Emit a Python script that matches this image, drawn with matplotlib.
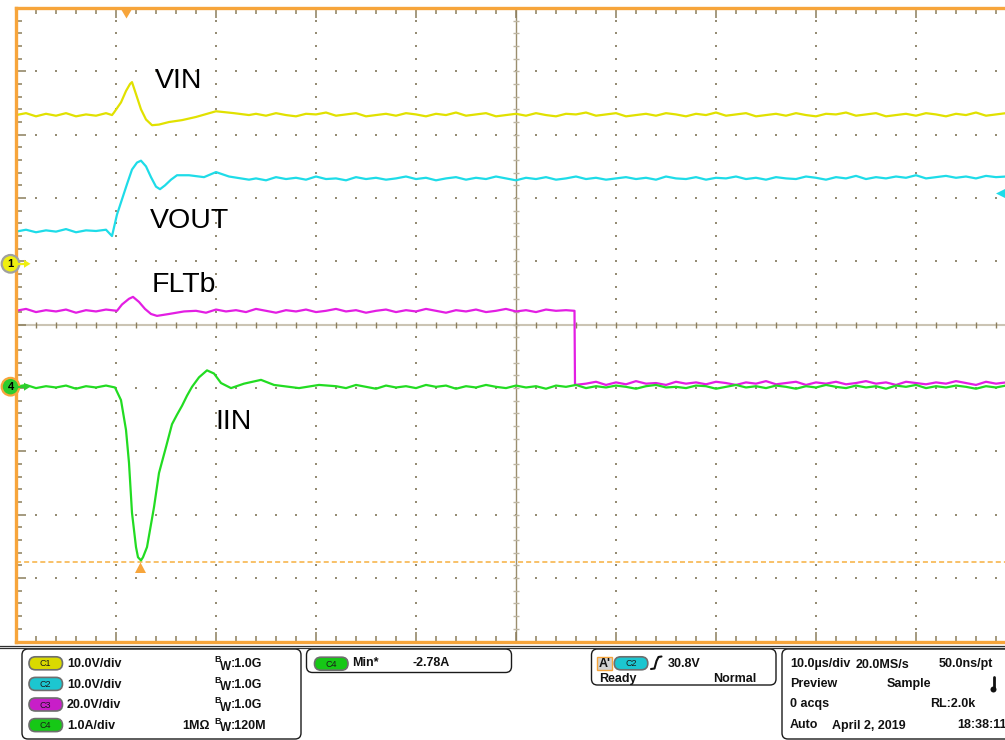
import matplotlib.pyplot as plt
from matplotlib.patches import FancyBboxPatch, Circle, Polygon
import numpy as np

OUTPUT = "out.png"
W, H = 1005, 740

plt.rcParams["font.family"] = ["Liberation Sans", "DejaVu Sans"]

# ---------------------------------------------------------------------------
# Scope data: time in us (10 us/div, trigger at t = 0), amplitude in
# screen divisions (10 x 10 graticule, centre = 0)
# ---------------------------------------------------------------------------
T_LEFT, T_RIGHT = -11.0, 89.0

# C1 - VIN
VIN_T_PRE = list(range(-11, -1))
VIN_PRE = [3.31, 3.34, 3.29, 3.33, 3.30, 3.34, 3.29, 3.32, 3.30, 3.34]
VIN_T_EVT = [-1.4, -1.2, -0.5, 0.0, 0.4, 0.6, 1.0, 1.5, 2.0, 2.6, 3.3, 4.3,
             5.6, 7.0, 9.0, 10.8, 12.3]
VIN_EVT = [3.31, 3.35, 3.51, 3.69, 3.80, 3.83, 3.64, 3.40, 3.24, 3.15, 3.16,
           3.20, 3.23, 3.28, 3.37, 3.34, 3.31]
VIN_T_POST = list(range(13, 89))
VIN_POST = [
    3.33, 3.30, 3.34, 3.31, 3.29, 3.33, 3.32, 3.35, 3.30, 3.32,
    3.34, 3.29, 3.31, 3.33, 3.30, 3.34, 3.32, 3.29, 3.33, 3.31,
    3.35, 3.30, 3.32, 3.34, 3.29, 3.31, 3.33, 3.30, 3.34, 3.31,
    3.29, 3.33, 3.32, 3.35, 3.30, 3.32, 3.34, 3.29, 3.31, 3.33,
    3.30, 3.34, 3.32, 3.29, 3.33, 3.31, 3.35, 3.30, 3.32, 3.34,
    3.29, 3.31, 3.33, 3.30, 3.34, 3.31, 3.29, 3.33, 3.32, 3.35,
    3.30, 3.32, 3.34, 3.29, 3.31, 3.33, 3.30, 3.34, 3.32, 3.29,
    3.33, 3.31, 3.35, 3.30, 3.32, 3.34,
]

# C2 - VOUT
VOUT_T_PRE = list(range(-11, -1))
VOUT_PRE = [1.47, 1.50, 1.46, 1.49, 1.47, 1.51, 1.46, 1.49, 1.48, 1.50]
VOUT_T_EVT = [-1.4, -0.9, -0.4, 0.1, 0.6, 1.1, 1.5, 2.0, 2.5, 3.0, 3.4, 3.9,
              4.5, 5.1, 6.3, 7.8, 9.0, 10.3, 12.3]
VOUT_EVT = [1.40, 1.74, 1.98, 2.22, 2.45, 2.56, 2.59, 2.50, 2.33, 2.18, 2.14,
            2.20, 2.29, 2.36, 2.36, 2.33, 2.41, 2.34, 2.29]
VOUT_T_POST = list(range(13, 89))
VOUT_POST = [
    2.31, 2.28, 2.33, 2.30, 2.32, 2.29, 2.34, 2.30, 2.31, 2.28,
    2.33, 2.30, 2.32, 2.29, 2.31, 2.34, 2.30, 2.32, 2.28, 2.31,
    2.33, 2.29, 2.32, 2.30, 2.34, 2.31, 2.28, 2.32, 2.30, 2.33,
    2.29, 2.31, 2.34, 2.30, 2.32, 2.29, 2.31, 2.33, 2.30, 2.32,
    2.29, 2.34, 2.31, 2.30, 2.33, 2.29, 2.32, 2.31, 2.34, 2.30,
    2.32, 2.29, 2.33, 2.31, 2.30, 2.34, 2.32, 2.29, 2.33, 2.31,
    2.35, 2.30, 2.33, 2.31, 2.34, 2.32, 2.36, 2.31, 2.33, 2.35,
    2.32, 2.34, 2.31, 2.35, 2.33, 2.34,
]

# C3 - FLTb
FLT_T_PRE = list(range(-11, -1))
FLT_PRE = [0.22, 0.25, 0.20, 0.23, 0.21, 0.24, 0.19, 0.23, 0.21, 0.24]
FLT_T_EVT = [-0.9, -0.4, 0.3, 0.7, 1.3, 1.9, 2.5, 3.1, 4.3, 5.8]
FLT_EVT = [0.22, 0.32, 0.41, 0.44, 0.36, 0.25, 0.17, 0.14, 0.17, 0.21]
FLT_T_MID = list(range(7, 45))
FLT_MID = [
    0.22, 0.19, 0.24, 0.21, 0.23, 0.20, 0.25, 0.22, 0.19, 0.23,
    0.21, 0.24, 0.20, 0.22, 0.25, 0.21, 0.23, 0.19, 0.22, 0.24,
    0.20, 0.23, 0.21, 0.25, 0.22, 0.19, 0.23, 0.21, 0.24, 0.20,
    0.22, 0.25, 0.21, 0.23, 0.20, 0.24, 0.22, 0.23,
]
FLT_T_STEP = [44.85, 44.9]
FLT_STEP = [0.22, -0.95]
FLT_T_LOW = list(range(46, 89))
FLT_LOW = [
    -0.93, -0.90, -0.95, -0.91, -0.94, -0.89, -0.93, -0.92, -0.95, -0.90,
    -0.93, -0.91, -0.94, -0.90, -0.92, -0.95, -0.91, -0.93, -0.89, -0.94,
    -0.92, -0.90, -0.95, -0.91, -0.93, -0.90, -0.94, -0.92, -0.89, -0.93,
    -0.91, -0.95, -0.90, -0.92, -0.94, -0.91, -0.93, -0.89, -0.92, -0.95,
    -0.90, -0.93, -0.91,
]

# C4 - IIN
IIN_T_PRE = list(range(-11, -1))
IIN_PRE = [-0.98, -0.95, -1.00, -0.97, -0.99, -0.96, -1.01, -0.97, -0.99, -0.96]
IIN_T_EVT = [-1.1, -0.5, 0.0, 0.3, 0.6, 1.0, 1.2, 1.5, 1.7, 2.1, 2.8, 3.3,
             4.0, 4.6, 5.1, 5.6, 6.1, 6.6, 7.3, 8.1, 8.8, 9.5, 10.5, 11.8,
             13.5, 14.8, 17.3, 19.3]
IIN_EVT = [-0.99, -1.19, -1.66, -2.18, -2.97, -3.51, -3.67, -3.72, -3.67,
           -3.51, -2.88, -2.34, -1.93, -1.57, -1.42, -1.28, -1.12, -0.98,
           -0.83, -0.72, -0.77, -0.92, -1.00, -0.93, -0.87, -0.95, -1.00,
           -0.95]
IIN_T_POST = list(range(21, 89))
IIN_POST = [
    -0.97, -1.00, -0.95, -0.98, -1.01, -0.96, -0.99, -0.97, -1.00, -0.95,
    -0.98, -0.96, -1.01, -0.97, -0.99, -0.95, -0.98, -1.00, -0.96, -0.99,
    -0.97, -1.01, -0.96, -0.98, -0.95, -1.00, -0.97, -0.99, -0.96, -0.98,
    -1.01, -0.97, -0.95, -0.99, -0.98, -1.00, -0.96, -0.97, -1.01, -0.98,
    -0.95, -0.99, -0.97, -1.00, -0.96, -0.98, -1.01, -0.97, -0.99, -0.95,
    -0.98, -1.00, -0.96, -0.99, -0.97, -1.01, -0.96, -0.98, -0.95, -1.00,
    -0.97, -0.99, -0.96, -0.98, -1.01, -0.97, -0.99, -0.96,
]

CURSOR_LEVEL = -3.75   # horizontal cursor at the IIN minimum

COL = {"C1": "#E1E100", "C2": "#1EDCE8", "C3": "#E31EE3", "C4": "#22DC22"}
ORANGE = "#F7A53B"
GRID = "#958C74"
TICK = "#8C7E5C"

# ---------------------------------------------------------------------------
# Figure / graticule
# ---------------------------------------------------------------------------
fig = plt.figure(figsize=(W / 100, H / 100), dpi=100)
fig.patch.set_facecolor("white")

ax = fig.add_axes([16 / W, (H - 641.5) / H, 1000 / W, 633.5 / H])
ax.set_xlim(T_LEFT, T_RIGHT)
ax.set_ylim(-5, 5)

ax.set_xticks(np.arange(T_LEFT, T_RIGHT + 1, 10))
ax.set_xticks(np.arange(T_LEFT, T_RIGHT + 1, 2), minor=True)
ax.set_yticks(np.arange(-5, 6, 1))
ax.set_yticks(np.arange(-5, 5.01, 0.2), minor=True)
ax.tick_params(which="both", direction="in", top=True, bottom=True,
               left=True, right=False, labelbottom=False, labelleft=False,
               color=TICK, width=1.1)
ax.tick_params(which="major", length=7.5)
ax.tick_params(which="minor", length=4.3)
for s in ax.spines.values():
    s.set_color(ORANGE)
    s.set_linewidth(2.4)
    s.set_zorder(6)

t_center = T_LEFT + 50
minor_y = np.arange(-5, 5.01, 0.2)
minor_t = np.arange(T_LEFT, T_RIGHT + 0.1, 2)

# dotted major lines
for k in range(1, 10):
    tx = T_LEFT + 10 * k
    if tx == t_center:
        continue
    ax.plot([tx] * len(minor_y), minor_y, ls="none", marker="s", ms=1.5,
            mew=0, color=GRID, zorder=1)
for yv in range(-4, 5):
    if yv == 0:
        continue
    ax.plot(minor_t, [yv] * len(minor_t), ls="none", marker="s", ms=1.5,
            mew=0, color=GRID, zorder=1)

# centre cross with ticks
ax.axhline(0, color="#CBC4B4", lw=1.5, zorder=1)
ax.plot(minor_t, [0] * len(minor_t), ls="none", marker="|", ms=4.5,
        mew=1.0, color=TICK, zorder=1.2)
ax.axvline(t_center, color="#9A8E6E", lw=1.0, zorder=1)
ax.plot([t_center] * len(minor_y), minor_y, ls="none", marker="_", ms=4.5,
        mew=1.0, color="#BDB5A2", zorder=1.2)

# cursor
ax.axhline(CURSOR_LEVEL, color="#F7B040", lw=1.1, dashes=(3.3, 2.0), zorder=2)

# ---------------------------------------------------------------------------
# Traces
# ---------------------------------------------------------------------------
lw = 1.6
ax.plot(VIN_T_PRE + VIN_T_EVT + VIN_T_POST, VIN_PRE + VIN_EVT + VIN_POST,
        color=COL["C1"], lw=lw, zorder=3)
ax.plot(VOUT_T_PRE + VOUT_T_EVT + VOUT_T_POST,
        VOUT_PRE + VOUT_EVT + VOUT_POST, color=COL["C2"], lw=lw, zorder=3)
ax.plot(FLT_T_PRE + FLT_T_EVT + FLT_T_MID + FLT_T_STEP + FLT_T_LOW,
        FLT_PRE + FLT_EVT + FLT_MID + FLT_STEP + FLT_LOW,
        color=COL["C3"], lw=lw, zorder=3)
ax.plot(IIN_T_PRE + IIN_T_EVT + IIN_T_POST, IIN_PRE + IIN_EVT + IIN_POST,
        color=COL["C4"], lw=lw, zorder=3.1)

# trace labels
lab_kw = dict(fontsize=20.5, color="black", ha="left", va="baseline", zorder=5)
ax.text(2.9, 3.74, "VIN", **lab_kw)
ax.text(2.4, 1.52, "VOUT", **lab_kw)
ax.text(2.55, 0.52, "FLTb", **lab_kw)
ax.text(8.9, -1.64, "IIN", **lab_kw)

# ---------------------------------------------------------------------------
# Overlay in pixel coordinates: markers and the readout panel
# ---------------------------------------------------------------------------
ov = fig.add_axes([0, 0, 1, 1], zorder=10)
ov.set_xlim(0, W)
ov.set_ylim(H, 0)
ov.set_axis_off()
ov.patch.set_alpha(0)

# trigger position (top), cursor marker, trigger level marker (right)
ov.add_patch(Polygon([(121.5, 10), (131.5, 10), (126.5, 18.5)], closed=True,
                     fc=ORANGE, ec="none"))
ov.add_patch(Polygon([(135, 573), (146, 573), (140.5, 562.5)], closed=True,
                     fc=ORANGE, ec="none"))
ov.add_patch(Polygon([(996, 193.5), (1005, 189), (1005, 198)], closed=True,
                     fc=COL["C2"], ec="none"))


def ch_marker(yc, label, fc, ec):
    ov.add_patch(Polygon([(24, yc - 4), (30.5, yc), (24, yc + 4)],
                         closed=True, fc=fc, ec="none"))
    ov.plot([18, 25], [yc, yc], color=fc, lw=1.6)
    ov.add_patch(Circle((10.5, yc), 8.8, fc=fc, ec=ec, lw=1.6))
    ov.text(10.5, yc + 0.5, label, ha="center", va="center", fontsize=8,
            fontweight="bold", color="black")


ch_marker(263.8, "1", "#EFEF10", "#A0A0A0")
ch_marker(386.7, "4", "#2ECC2E", ORANGE)

# separator lines under the graticule
ov.plot([0, W], [645.5, 645.5], color="#303030", lw=0.9)
ov.plot([0, W], [648.0, 648.0], color="#303030", lw=0.9)


def box(x0, y0, x1, y1):
    ov.add_patch(FancyBboxPatch((x0, y0), x1 - x0, y1 - y0,
                                boxstyle="round,pad=0,rounding_size=6",
                                fc="white", ec="#1A1A1A", lw=1.0))


def badge(x, yc, label, fc):
    h, w = 13.0, 33.5
    ov.add_patch(FancyBboxPatch((x, yc - h / 2), w, h,
                                boxstyle=f"round,pad=0,rounding_size={h / 2}",
                                fc=fc, ec="#6E6E6E", lw=1.2))
    ov.text(x + w / 2, yc + 0.5, label, ha="center", va="center",
            fontsize=6.5, color="#1A1A1A")


txt_kw = dict(fontsize=9, fontweight="bold", color="#111111", va="baseline")

# channel settings box
box(22, 649, 301, 739)
CH_ROWS = [("C1", "10.0V/div", "1.0G", ""), ("C2", "10.0V/div", "1.0G", ""),
           ("C3", "20.0V/div", "1.0G", ""), ("C4", "1.0A/div", "120M", "1MΩ")]
BADGE_COL = {"C1": "#DADA00", "C2": "#1CC6D0", "C3": "#C81EC8",
             "C4": "#16C816"}
for i, (ch, scale, bw, imp) in enumerate(CH_ROWS):
    base = 667 + 20.6 * i
    badge(29, base - 3.7, ch, BADGE_COL[ch])
    ov.text(67, base, scale, **txt_kw)
    ov.text(214.5, base - 5, "B", fontsize=6.5, fontweight="bold",
            color="#111111", va="baseline")
    ov.text(220, base + 2.5, "W", fontsize=8.5, fontweight="bold",
            color="#111111", va="baseline")
    ov.text(231, base, ":" + bw, **txt_kw)
    if imp:
        ov.text(182.5, base, imp, **txt_kw)

# measurement box
box(306.5, 649, 511.5, 672.5)
badge(314.5, 663.7, "C4", BADGE_COL["C4"])
ov.text(352, 666.5, "Min*", **txt_kw)
ov.text(412.5, 666.5, "-2.78A", **txt_kw)

# trigger box
box(591.5, 649, 776, 685)
ov.add_patch(FancyBboxPatch((597.3, 656.7), 15, 13.3, boxstyle="square,pad=0",
                            fc="#D2D2D2", ec=ORANGE, lw=1.0))
ov.text(599, 667, "A'", **txt_kw)
badge(614.3, 663.3, "C2", BADGE_COL["C2"])
ov.plot([651, 654.5, 656.5, 658.5, 661.5], [669, 668.5, 661, 657, 656.5],
        color="#111111", lw=1.5, solid_capstyle="round")
ov.text(667.5, 667, "30.8V", **txt_kw)
ov.text(599, 682, "Ready", **txt_kw)
ov.text(756.5, 682, "Normal", ha="right", fontsize=9, fontweight="bold",
        color="#111111", va="baseline")

# acquisition box
box(782, 649, 1030, 739)
ov.text(790, 667.5, "10.0µs/div", **txt_kw)
ov.text(856, 667.5, "20.0MS/s", **txt_kw)
ov.text(993, 667.5, "50.0ns/pt", ha="right", fontsize=9, fontweight="bold",
        color="#111111", va="baseline")
ov.text(790, 687, "Preview", **txt_kw)
ov.text(887, 687, "Sample", **txt_kw)
ov.plot([993.5, 993.5], [677, 688], color="#111111", lw=2.0,
        solid_capstyle="round")
ov.add_patch(Circle((993.5, 689.5), 3.0, fc="#111111", ec="none"))
ov.text(790, 707, "0 acqs", **txt_kw)
ov.text(930, 707, "RL:2.0k", **txt_kw)
ov.text(790, 728.5, "Auto", **txt_kw)
ov.text(831.5, 728.5, "April 2, 2019", **txt_kw)
ov.text(957, 728.5, "18:38:11", **txt_kw)

fig.savefig(OUTPUT, dpi=100)
